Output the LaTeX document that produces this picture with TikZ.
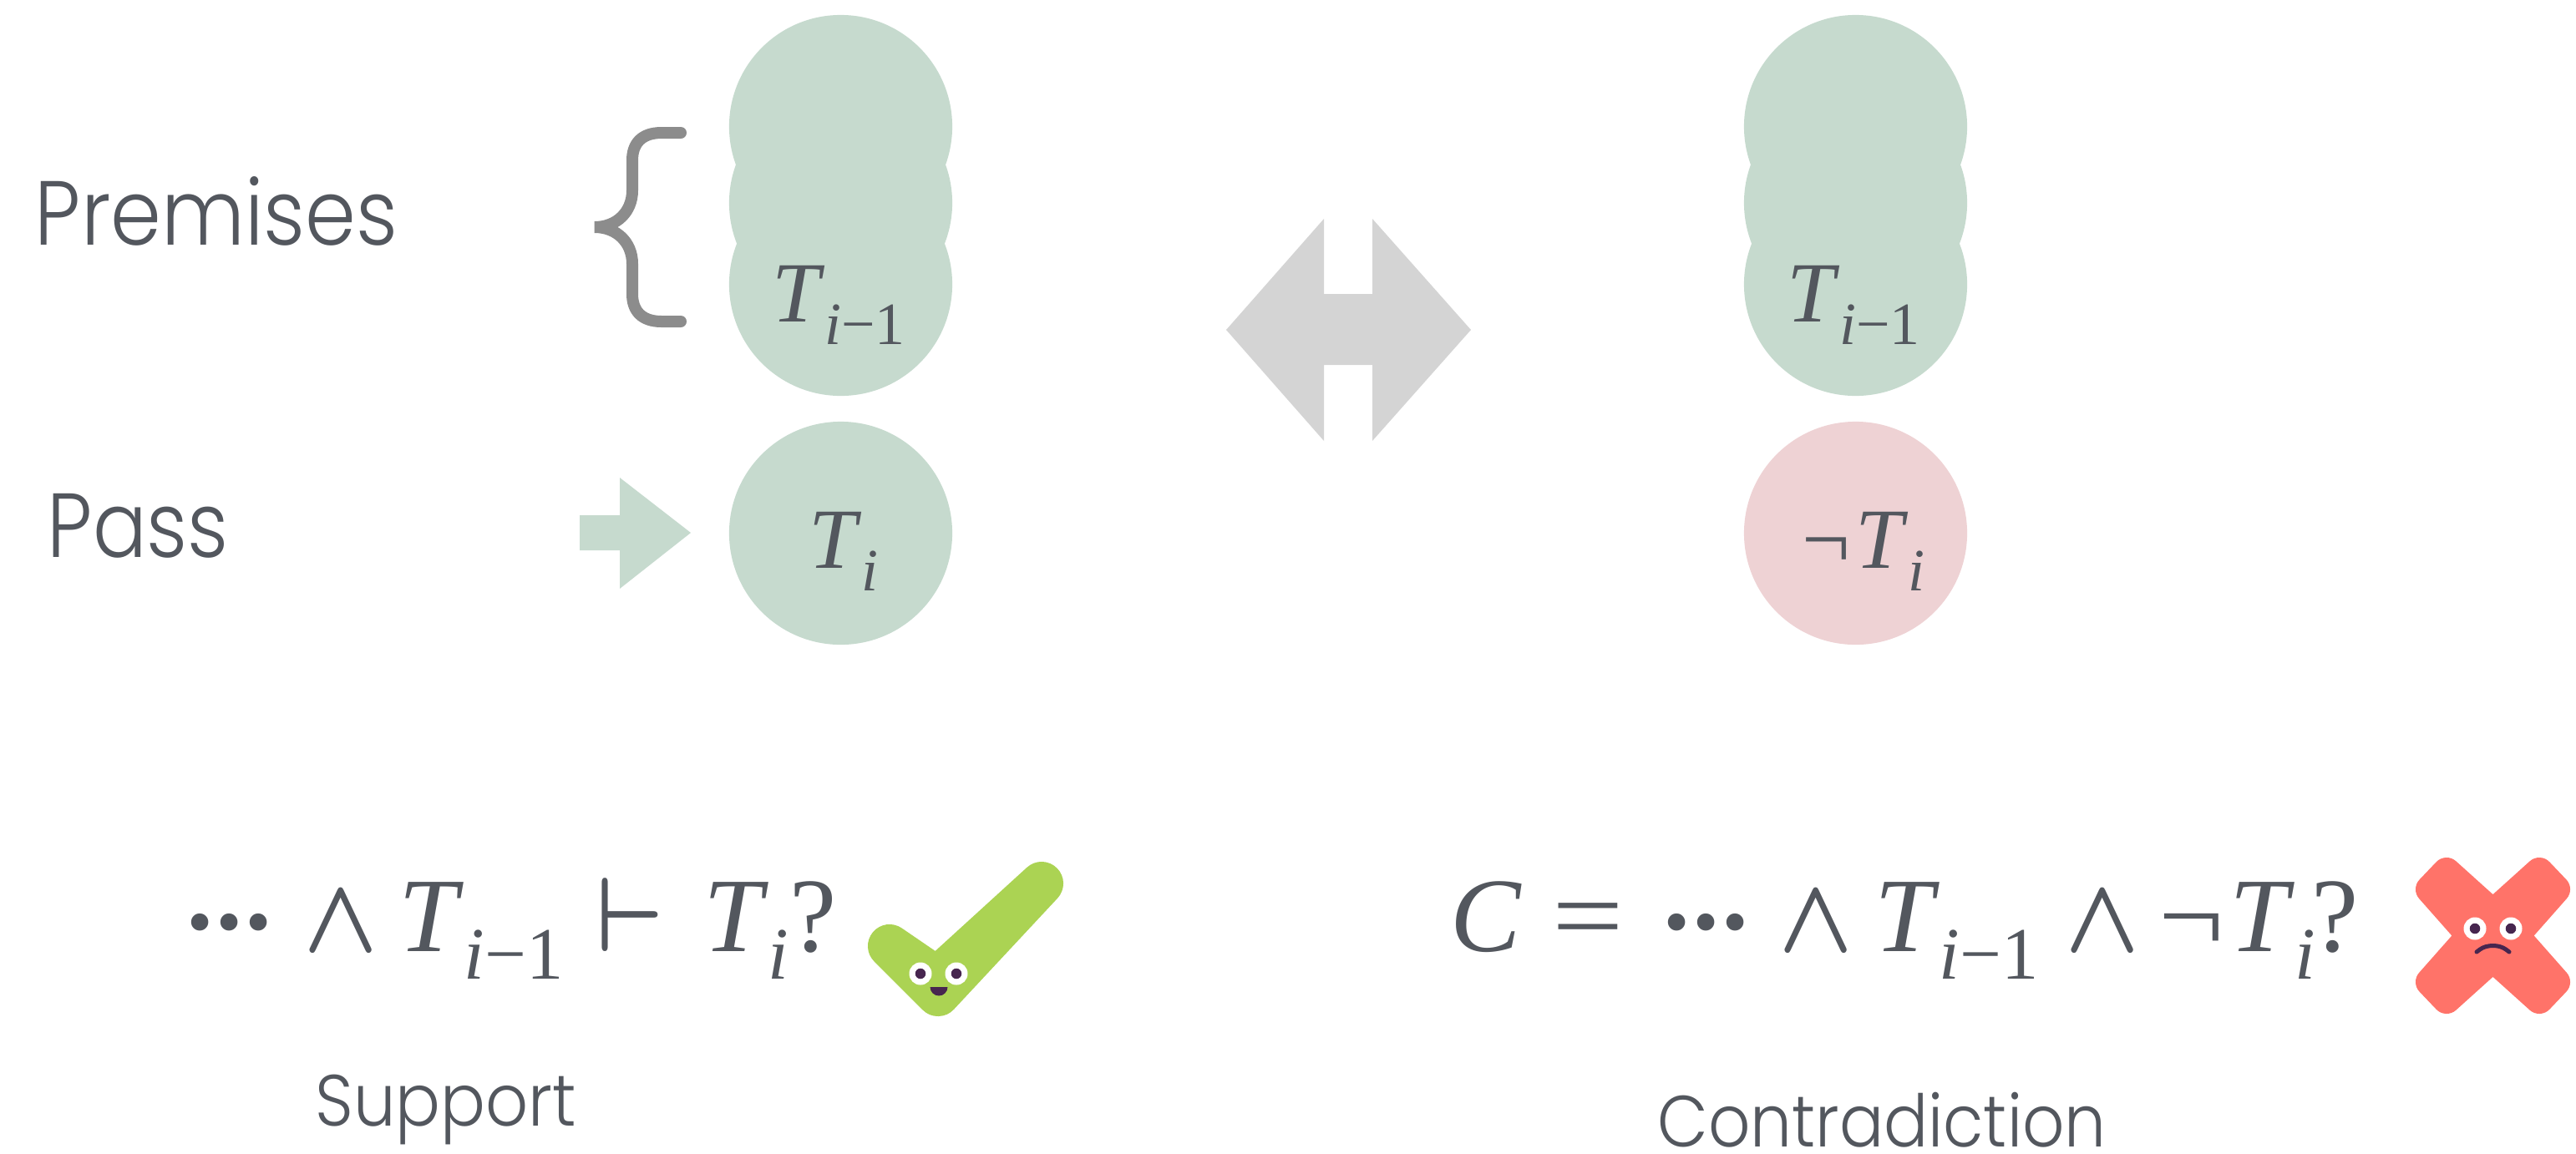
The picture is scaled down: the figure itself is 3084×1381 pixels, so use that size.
\documentclass[tikz,border=0pt]{standalone}
\usepackage{fontspec}
\setmainfont{Liberation Serif}
\newfontfamily\lightf{Poppins Light}
\definecolor{ink}{HTML}{53575E}
\definecolor{sage}{HTML}{C6DACE}
\definecolor{rosy}{HTML}{EED2D4}
\definecolor{arrowgrey}{HTML}{D4D4D4}
\definecolor{bracegrey}{HTML}{8C8C8C}
\definecolor{okgreen}{HTML}{ABD353}
\definecolor{badred}{HTML}{FF7369}
\definecolor{plum}{HTML}{47264F}
\newlength{\ux}\setlength{\ux}{0.002778cm}
% place a piece at an offset (reference pixels) inside one formula node
\newcommand{\pc}[2]{\rlap{\kern#1\ux #2}}
\newcommand{\Tsub}[1]{\textit{T}\raisebox{-0.265em}{\scalebox{0.7}{#1}}}
\newcommand{\iminus}{\textit{i}−1}
\newcommand{\Dots}{\raisebox{-0.06em}{\textbf{·}\kern-.06em\textbf{·}\kern-.06em\textbf{·}}}
\newcommand{\Wedge}{{\boldmath\scalebox{0.92}[1]{$\wedge$}}}
\newcommand{\Vdash}{{\boldmath\scalebox{0.92}[1]{$\vdash$}}}
\tikzset{
  disc/.style={circle,minimum size=2.67cm,inner sep=0pt,fill=sage},
  lab/.style={text=ink,font=\lightf,inner sep=0pt,anchor=base west},
  mth/.style={text=ink,inner sep=0pt,anchor=base west},
  eye/.style={circle,fill=white,inner sep=0pt,minimum size=0.27cm},
  pupil/.style={circle,fill=plum,inner sep=0pt,minimum size=0.125cm}
}
\begin{document}
\begin{tikzpicture}[x=0.01cm,y=-0.01cm]
\useasboundingbox (0,0) rectangle (3084,1381);
% left column
\node[disc] (a1) at (1006.5,151.5) {};
\node[disc] (a2) at (1006.5,243) {};
\node[disc] (a3) at (1006.5,340.5) {};
\node[disc] (a4) at (1006.5,638.5) {};
% right column
\node[disc] (b1) at (2221.5,151.5) {};
\node[disc] (b2) at (2221.5,243) {};
\node[disc] (b3) at (2221.5,340.5) {};
\node[disc,fill=rosy] (b4) at (2221.5,638.5) {};
% cell labels
\node[mth,scale=2.92] (t1) at (922,385) {\Tsub{\iminus}};
\node[mth,scale=2.92] (t2) at (2137,385) {\Tsub{\iminus}};
\node[mth,scale=2.92] (t3) at (966,680) {\Tsub{\textit{i}}};
\node[mth,scale=2.92] (t4) at (2155,680) {¬\kern.06em\Tsub{\textit{i}}};
% side labels
\node[lab,xscale=2.78,yscale=3.1] (premises) at (40,293) {Premises};
\node[lab,xscale=2.73,yscale=3.1] (pass) at (55,667) {Pass};
\node[lab,xscale=2.27,yscale=2.47] (support) at (376,1348) {Support};
\node[lab,xscale=2.24,yscale=2.47] (contra) at (1983,1373) {Contradiction};
% brace
\draw[bracegrey,line width=0.14cm,line cap=round]
 (815,159) -- (792,159) .. controls (768,159) and (757,172) .. (757,192) -- (757,228)
 .. controls (757,254) and (738,272) .. (712,272)
 .. controls (738,272) and (757,290) .. (757,316) -- (757,352)
 .. controls (757,372) and (768,385) .. (792,385) -- (815,385);
% double arrow
\fill[arrowgrey] (1468,395) -- (1585,262) -- (1585,352) -- (1643,352) -- (1643,262) -- (1761,395)
 -- (1643,528) -- (1643,437) -- (1585,437) -- (1585,528) -- cycle;
% pass arrow
\fill[sage] (694,617) -- (742,617) -- (742,572) -- (827,638) -- (742,705) -- (742,659) -- (694,659) -- cycle;
% formulas
\node[mth,scale=3.6] (f1) at (200,1139) {%
 \pc{10}{\Dots}\pc{155}{\Wedge}\pc{269}{\Tsub{\iminus}}\pc{505}{\Vdash}\pc{633}{\Tsub{\textit{i}}}\pc{736}{?}};
\node[mth,scale=3.6] (f2) at (1700,1139) {%
 \pc{28}{\textit{C}}\pc{150}{\scalebox{1.2}[1]{=}}\pc{278}{\Dots}\pc{421}{\Wedge}\pc{535}{\Tsub{\iminus}}\pc{763}{\Wedge}\pc{875}{\scalebox{1.1}[1]{¬}}\pc{960}{\Tsub{\textit{i}}}\pc{1058}{?}};
% check
\filldraw[okgreen,line width=0.52cm,line join=round] (1065,1133) -- (1123,1191) -- (1247,1058) -- (1122,1172) -- cycle;
\node[eye] (e1) at (1102,1166) {};
\node[eye] (e2) at (1145,1166) {};
\node[pupil] (p1) at (1102,1166) {};
\node[pupil] (p2) at (1145,1166) {};
\fill[plum] (1113.5,1182) -- (1134.5,1182) arc (0:180:10.5) -- cycle;
% cross
\filldraw[badred,line width=0.34cm,line join=round] (2929,1044) -- (2984.5,1094) -- (3040,1044) -- (3060,1065) -- (3011,1120.5) -- (3060,1176) -- (3040,1197) -- (2984.5,1147) -- (2929,1197) -- (2909,1176) -- (2958,1120.5) -- (2909,1065) -- cycle;
\node[eye] (e3) at (2963,1112) {};
\node[eye] (e4) at (3006,1112) {};
\node[pupil] (p3) at (2963,1112) {};
\node[pupil] (p4) at (3006,1112) {};
\draw[plum,line width=0.05cm,line cap=round] (2965,1140) -- (2969,1137) .. controls (2977,1131) and (2992,1131) .. (3000,1137) -- (3004,1140);
\end{tikzpicture}
\end{document}
